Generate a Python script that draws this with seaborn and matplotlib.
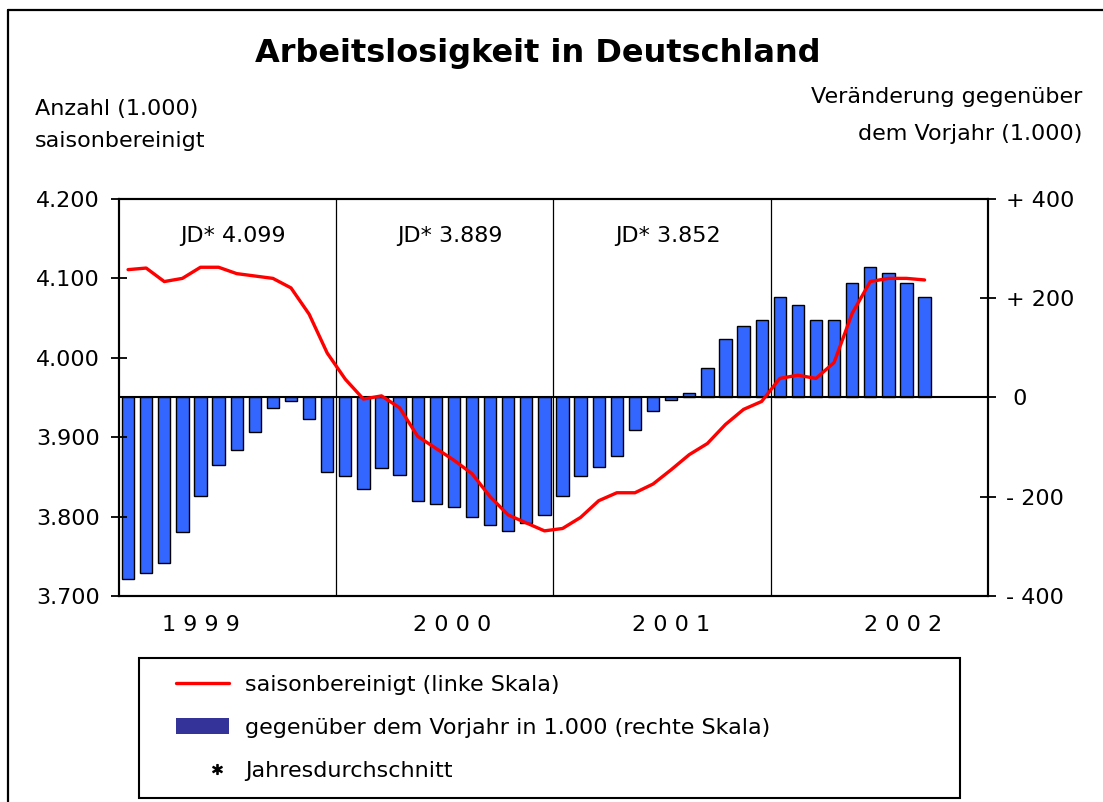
import matplotlib
matplotlib.use("Agg")
import matplotlib.pyplot as plt
from matplotlib.lines import Line2D
from matplotlib.patches import Patch
from matplotlib.legend_handler import HandlerLine2D, HandlerPatch
import pandas as pd
import seaborn as sns

# Monatswerte Jan 1999 - Sep 2002
months = list(range(45))
# Veraenderung gegenueber Vorjahr (1.000), rechte Skala
change_prev_year = [
    -365, -353, -333, -272, -198, -136, -105, -69, -21, -8, -43, -150,
    -159, -185, -143, -156, -208, -214, -221, -241, -256, -269, -252, -237,
    -198, -159, -140, -118, -66, -27, -5, 9, 60, 118, 145, 157,
    202, 186, 157, 157, 230, 263, 250, 230, 202,
]
# Arbeitslose saisonbereinigt (1.000), linke Skala
seasonal_adj = [
    4111, 4113, 4096, 4100, 4114, 4114, 4106, 4103, 4100, 4088, 4055, 4006,
    3973, 3948, 3952, 3937, 3901, 3886, 3871, 3854, 3825, 3802, 3792, 3782,
    3785, 3799, 3820, 3830, 3830, 3841, 3859, 3878, 3892, 3916, 3935, 3945,
    3974, 3978, 3974, 3994, 4056, 4096, 4100, 4100, 4098,
]
years = ["1999", "2000", "2001", "2002"]
annual_avg = ["4.099", "3.889", "3.852"]
left_ticks = [3700, 3800, 3900, 4000, 4100, 4200]
right_ticks = [-400, -200, 0, 200, 400]

# layout (month units on the x axis)
year_label_pos = [4.0, 17.9, 30.0, 42.8]
jd_pos = [5.8, 17.8, 29.8]
year_bounds = [11.5, 23.5, 35.5]

df = pd.DataFrame({"month": months, "change": change_prev_year, "sa": seasonal_adj})

sns.set_style("white")
plt.rcParams["font.family"] = ["DejaVu Sans"]
plt.rcParams["text.color"] = "black"
plt.rcParams["axes.labelcolor"] = "black"

fig = plt.figure(figsize=(11.03, 8.02), dpi=100)
ax = fig.add_axes([0.1079, 0.2569, 0.7878, 0.495])
ax2 = ax.twinx()

# bars on the right scale
sns.barplot(data=df, x="month", y="change", ax=ax2, native_scale=True,
            color="#3366FF", saturation=1, edgecolor="black", linewidth=1.0,
            width=0.68, errorbar=None)
for xb in year_bounds:
    ax2.axvline(xb, color="black", lw=0.9, zorder=0)
ax2.axhline(0, color="black", lw=1.5, zorder=3)

# line on the left scale
sns.lineplot(data=df, x="month", y="sa", ax=ax, color="#FF0000", linewidth=2.4)
ax.set_zorder(ax2.get_zorder() + 1)
ax.patch.set_visible(False)

ax.set_xlim(-0.5, 47.5)
ax.set_ylim(3700, 4200)
ax2.set_ylim(-400, 400)
ax.set_xlabel("")
ax.set_ylabel("")
ax2.set_xlabel("")
ax2.set_ylabel("")

ax.set_yticks(left_ticks)
ax.set_yticklabels([f"{v:,}".replace(",", ".") for v in left_ticks])
ax2.set_yticks(right_ticks)
ax2.set_yticklabels([f"+ {v}" if v > 0 else (f"- {-v}" if v < 0 else " 0")
                     for v in right_ticks])
ax.set_xticks(year_label_pos)
ax.set_xticklabels([" ".join(y) for y in years])

ax.tick_params(axis="y", direction="inout", length=12, width=1.3, pad=8,
               labelsize=16, colors="black")
ax2.tick_params(axis="y", direction="inout", length=12, width=1.3, pad=7,
                labelsize=16, colors="black")
ax.tick_params(axis="x", length=0, pad=14, labelsize=16, colors="black")

for a in (ax, ax2):
    for sp in a.spines.values():
        sp.set_visible(True)
        sp.set_color("black")
        sp.set_linewidth(1.5)

# Jahresdurchschnitte
for xp, val in zip(jd_pos, annual_avg):
    ax2.text(xp, 0.892, f"JD* {val}", transform=ax2.get_xaxis_transform(),
             ha="center", va="baseline", fontsize=16, color="black")

# titles and axis captions
fig.text(0.488, 0.9227, "Arbeitslosigkeit in Deutschland", ha="center",
         va="baseline", fontsize=23, fontweight="bold", color="black")
fig.text(0.0317, 0.8566, "Anzahl (1.000)", ha="left", va="baseline", fontsize=16)
fig.text(0.0317, 0.8167, "saisonbereinigt", ha="left", va="baseline", fontsize=16)
fig.text(0.981, 0.8716, "Veränderung gegenüber", ha="right", va="baseline", fontsize=16)
fig.text(0.981, 0.8254, "dem Vorjahr (1.000)", ha="right", va="baseline", fontsize=16)

# legend
h_line = Line2D([], [], color="#FF0000", lw=2.4)
h_bar = Patch(facecolor="#333399", edgecolor="none")
h_star = Line2D([], [], ls="none", marker="$*$", color="black", markersize=7)
leg = fig.legend(
    [h_line, h_bar, h_star],
    ["saisonbereinigt (linke Skala)",
     "gegenüber dem Vorjahr in 1.000 (rechte Skala)",
     "Jahresdurchschnitt"],
    loc="upper left", bbox_to_anchor=(139 / 1103, 0, 821 / 1103, 1 - 658 / 802),
    mode="expand", borderaxespad=0, borderpad=0.76, labelspacing=1.04,
    handlelength=3.29, handletextpad=0.72, fontsize=16, fancybox=False,
    framealpha=1, edgecolor="black",
    handler_map={h_line: HandlerLine2D(xpad=0.9),
                 h_bar: HandlerPatch(xpad=0.9),
                 h_star: HandlerLine2D(xpad=2.21)},
)
leg.get_frame().set_linewidth(1.5)
for t in leg.get_texts():
    t.set_color("black")

# outer frame
fig.add_artist(Line2D([0.00725, 1.0], [0.9875, 0.9875], transform=fig.transFigure,
                      color="black", lw=1.6))
fig.add_artist(Line2D([0.00725, 0.00725], [0.0, 0.9875], transform=fig.transFigure,
                      color="black", lw=1.6))

fig.savefig("out.png", dpi=100)
